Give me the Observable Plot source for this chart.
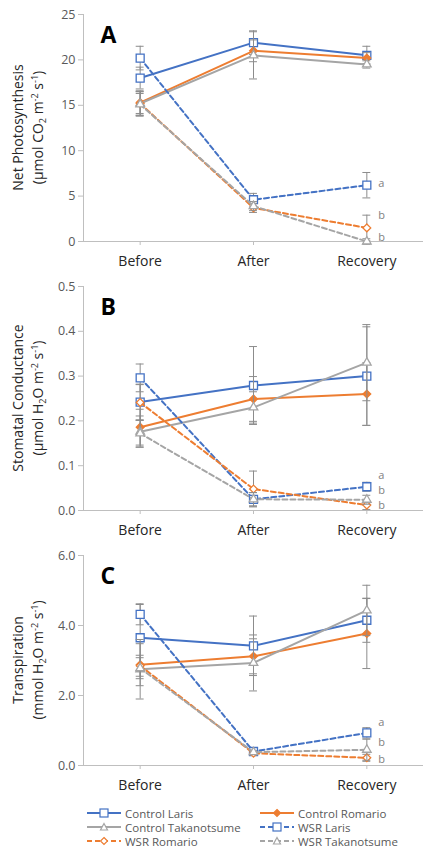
<!DOCTYPE html>
<html><head><meta charset="utf-8">
<script src="https://cdn.jsdelivr.net/npm/d3@7"></script>
<script src="https://cdn.jsdelivr.net/npm/@observablehq/plot@0.6"></script>
<style>
body{margin:0;background:#fff;font-family:"Open Sans",sans-serif;}
#wrap{position:relative;width:425px;height:849px;overflow:hidden;}
.panel{position:absolute;left:0;}
#legend{position:absolute;left:0;top:805px;width:425px;font-size:11.5px;color:#595959;}
.li{position:absolute;display:flex;align-items:center;height:14px;white-space:nowrap;}
.li svg{margin-right:4px;}
</style></head>
<body><div id="wrap"></div>
<script>
const categories = ["Before", "After", "Recovery"];
const seriesNames = ["Control Laris", "Control Romario", "Control Takanotsume", "WSR Laris", "WSR Romario", "WSR Takanotsume"];

// Panel A: Net Photosynthesis
const photoMeans = [[18.0, 21.9, 20.5], [15.3, 21.0, 20.2], [15.2, 20.5, 19.5], [20.2, 4.6, 6.2], [15.2, 3.7, 1.5], [15.1, 3.9, 0.0]];
const photoErrs  = [[1.2, 1.3, 1.0], [1.2, 1.2, 0.6], [1.4, 2.6, 0.4], [1.3, 0.7, 1.4], [1.3, 0.5, 1.4], [1.2, 0.5, 0.3]];
const photoLetters = [["a", 6.4], ["b", 2.9], ["b", 0.4]];
const photoTicks = [0, 5, 10, 15, 20, 25];

// Panel B: Stomatal Conductance
const condMeans = [[0.242, 0.279, 0.300], [0.186, 0.249, 0.260], [0.176, 0.230, 0.330], [0.296, 0.025, 0.053], [0.241, 0.048, 0.012], [0.172, 0.025, 0.024]];
const condErrs  = [[0.04, 0.087, 0.11], [0.04, 0.05, 0.07], [0.035, 0.035, 0.085], [0.031, 0.015, 0.01], [0.04, 0.04, 0.01], [0.03, 0.015, 0.01]];
const condLetters = [["a", 0.078], ["b", 0.045], ["b", 0.012]];
const condTicks = [0, 0.1, 0.2, 0.3, 0.4, 0.5];

// Panel C: Transpiration
const transMeans = [[3.65, 3.42, 4.15], [2.88, 3.12, 3.77], [2.75, 2.93, 4.43], [4.32, 0.40, 0.93], [2.85, 0.35, 0.22], [2.78, 0.38, 0.45]];
const transErrs  = [[0.95, 0.85, 0.63], [0.6, 0.5, 1.0], [0.85, 0.8, 0.72], [0.3, 0.05, 0.15], [0.3, 0.05, 0.1], [0.3, 0.05, 0.3]];
const transLetters = [["a", 1.23], ["b", 0.66], ["b", 0.17]];
const transTicks = [0, 2, 4, 6];

const BLUE = "#4472C4", ORANGE = "#ED7D31", GRAY = "#A5A5A5";
const styles = [
  {color: BLUE, dash: null, symbol: "square", fill: "white"},
  {color: ORANGE, dash: null, symbol: "diamond2", fill: ORANGE},
  {color: GRAY, dash: null, symbol: "triangle", fill: "white"},
  {color: BLUE, dash: "5,3", symbol: "square", fill: "white"},
  {color: ORANGE, dash: "5,3", symbol: "diamond2", fill: "white"},
  {color: GRAY, dash: "5,3", symbol: "triangle", fill: "white"}
];
const symbolR = {square: 4.5, diamond2: 3.5, triangle: 3.2};

function panel(cfg) {
  const rows = seriesNames.flatMap((name, si) => cfg.means[si].map((v, i) => ({name, si, i, v, e: cfg.errs[si][i]})));
  const marks = [
    Plot.ruleX([-0.5], {stroke: "#bfbfbf"}),
    Plot.axisY({ticks: cfg.ticks, tickFormat: cfg.fmt, tickSize: 5, tickPadding: 3, stroke: "#bfbfbf", fill: "#595959", fontSize: 12.5, label: null}),
    Plot.axisX({ticks: [0, 1, 2], tickFormat: i => categories[i], tickSize: 4, tickPadding: 11, stroke: "#bfbfbf", fill: "#262626", fontSize: 14, label: null}),
    Plot.ruleY([0], {stroke: "#bfbfbf"})
  ];
  seriesNames.forEach((name, si) => {
    const st = styles[si];
    const d = rows.filter(r => r.si === si);
    marks.push(
      Plot.ruleX(d, {x: "i", y1: r => r.v - r.e, y2: r => r.v + r.e, stroke: "#8c8c8c", strokeWidth: 1}),
      Plot.ruleY(d, {x1: r => r.i - 0.035, x2: r => r.i + 0.035, y: r => r.v - r.e, stroke: "#8c8c8c", strokeWidth: 1}),
      Plot.ruleY(d, {x1: r => r.i - 0.035, x2: r => r.i + 0.035, y: r => r.v + r.e, stroke: "#8c8c8c", strokeWidth: 1}),
      Plot.line(d, {x: "i", y: "v", stroke: st.color, strokeWidth: 2, strokeDasharray: st.dash}),
      Plot.dot(d, {x: "i", y: "v", symbol: () => st.symbol, r: symbolR[st.symbol], stroke: st.color, fill: st.fill, strokeWidth: 1.3})
    );
  });
  marks.push(
    Plot.text(cfg.letters, {x: () => 2.1, y: d => d[1], text: d => d[0], fill: "#7f7f7f", fontSize: 11, textAnchor: "start"}),
    Plot.text([cfg.letter], {frameAnchor: "top-left", dx: 17, dy: 21, text: d => d, fontSize: 23, fontWeight: "bold", fill: "#000", textAnchor: "start", lineAnchor: "middle"})
  );
  const svg = Plot.plot({
    width: 425, height: cfg.height,
    marginLeft: 83, marginRight: 2, marginTop: 14, marginBottom: cfg.height - cfg.y0,
    x: {type: "linear", domain: [-0.5, 2.5], axis: null},
    y: {domain: [0, cfg.max], axis: null},
    style: {fontFamily: "'Open Sans', sans-serif", background: "white", overflow: "visible"},
    marks
  });
  const cy = (14 + cfg.y0) / 2;
  const g = d3.select(svg).append("g").attr("font-family", "'Open Sans', sans-serif").attr("font-size", 14).attr("fill", "#262626").attr("text-anchor", "middle");
  g.append("text").attr("transform", `translate(23,${cy}) rotate(-90)`).text(cfg.title);
  const t2 = g.append("text").attr("transform", `translate(43,${cy}) rotate(-90)`);
  cfg.unit.forEach(([s, k]) => {
    const ts = t2.append("tspan").text(s);
    if (k === "sup") ts.attr("font-size", 9).attr("dy", -5);
    else if (k === "sub") ts.attr("font-size", 9).attr("dy", 3);
    else if (k === "base-after-sup") ts.attr("dy", 5);
    else if (k === "base-after-sub") ts.attr("dy", -3);
  });
  const div = document.createElement("div");
  div.className = "panel";
  div.style.top = cfg.top + "px";
  div.appendChild(svg);
  document.getElementById("wrap").appendChild(div);
}

panel({top: 0, height: 275, y0: 241, max: 25, ticks: photoTicks, fmt: d3.format("d"), means: photoMeans, errs: photoErrs, letters: photoLetters, letter: "A",
  title: "Net Photosynthesis",
  unit: [["(μmol CO"], ["2", "sub"], [" m", "base-after-sub"], ["-2", "sup"], [" s", "base-after-sup"], ["-1", "sup"], [")", "base-after-sup"]]});
panel({top: 272, height: 270, y0: 238, max: 0.5, ticks: condTicks, fmt: d3.format(".1f"), means: condMeans, errs: condErrs, letters: condLetters, letter: "B",
  title: "Stomatal Conductance",
  unit: [["(μmol H"], ["2", "sub"], ["O m", "base-after-sub"], ["-2", "sup"], [" s", "base-after-sup"], ["-1", "sup"], [")", "base-after-sup"]]});
panel({top: 541, height: 250, y0: 224, max: 6, ticks: transTicks, fmt: d3.format(".1f"), means: transMeans, errs: transErrs, letters: transLetters, letter: "C",
  title: "Transpiration",
  unit: [["(mmol H"], ["2", "sub"], ["O m", "base-after-sub"], ["-2", "sup"], [" s", "base-after-sup"], ["-1", "sup"], [")", "base-after-sup"]]});

// legend
const legend = document.createElement("div");
legend.id = "legend";
const pos = [[87, 813], [260, 813], [87, 827], [260, 827], [87, 841], [260, 841]];
function symPath(sym) {
  if (sym === "square") return '<rect x="13" y="3" width="8" height="8"/>';
  if (sym === "diamond2") return '<path d="M17,3.5 L20.5,7 L17,10.5 L13.5,7 Z"/>';
  return '<path d="M17,3.5 L20.5,10 L13.5,10 Z"/>';
}
seriesNames.forEach((name, si) => {
  const st = styles[si];
  const el = document.createElement("div");
  el.className = "li";
  el.style.left = pos[si][0] + "px";
  el.style.top = (pos[si][1] - 805 - 7) + "px";
  el.innerHTML = `<svg width="34" height="14"><line x1="0" x2="34" y1="7" y2="7" stroke="${st.color}" stroke-width="2" ${st.dash ? `stroke-dasharray="${st.dash}"` : ""}/><g stroke="${st.color}" fill="${st.fill}" stroke-width="1.2">${symPath(st.symbol)}</g></svg>${name}`;
  legend.appendChild(el);
});
document.getElementById("wrap").appendChild(legend);
</script></body></html>
